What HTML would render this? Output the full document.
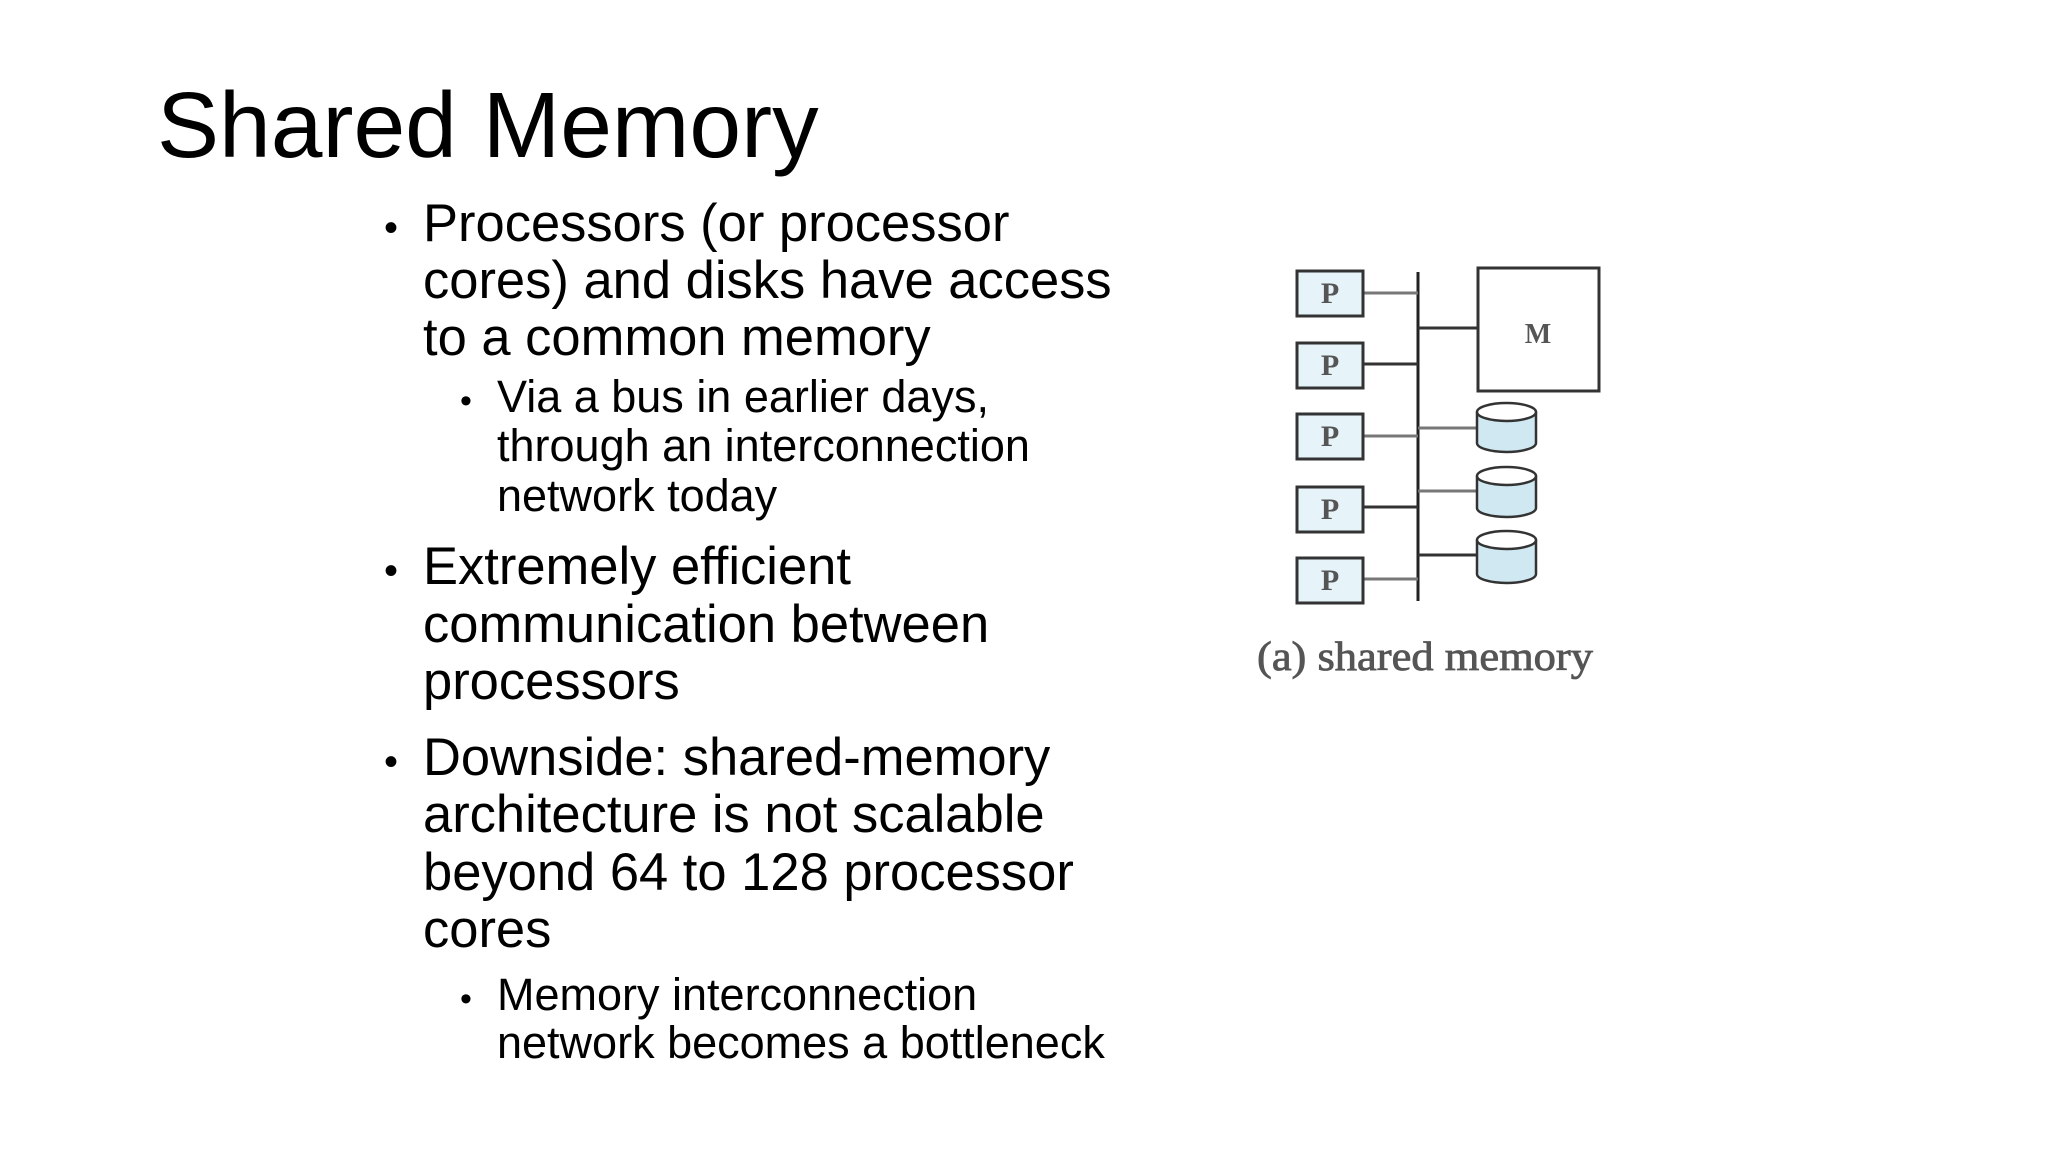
<!DOCTYPE html>
<html><head><meta charset="utf-8"><style>
html,body{margin:0;padding:0;background:#fff;}
svg{display:block;}
</style></head><body>
<svg width="2048" height="1152" viewBox="0 0 2048 1152" xmlns="http://www.w3.org/2000/svg">
<rect width="2048" height="1152" fill="#fff"/>
<g font-family="Liberation Sans, Arial, sans-serif" fill="#000">
<text x="157" y="157" font-size="93">Shared Memory</text>
<g font-size="52.5">
<text x="384" y="241" font-size="40">•</text>
<text x="423" y="241">Processors (or processor</text>
<text x="423" y="298">cores) and disks have access</text>
<text x="423" y="355">to a common memory</text>
<text x="384" y="584" font-size="40">•</text>
<text x="423" y="584">Extremely efficient</text>
<text x="423" y="642">communication between</text>
<text x="423" y="699">processors</text>
<text x="384" y="775" font-size="40">•</text>
<text x="423" y="775">Downside: shared-memory</text>
<text x="423" y="832">architecture is not scalable</text>
<text x="423" y="890">beyond 64 to 128 processor</text>
<text x="423" y="947">cores</text>
</g>
<g font-size="45">
<text x="460" y="412" font-size="34">•</text>
<text x="497" y="412">Via a bus in earlier days,</text>
<text x="497" y="461">through an interconnection</text>
<text x="497" y="511">network today</text>
<text x="460" y="1010" font-size="34">•</text>
<text x="497" y="1010">Memory interconnection</text>
<text x="497" y="1058">network becomes a bottleneck</text>
</g>
</g>
<!-- diagram -->
<g>
<line x1="1418" y1="272" x2="1418" y2="601" stroke="#222" stroke-width="3"/>
<g stroke="#777" stroke-width="3">
<line x1="1364" y1="293" x2="1418" y2="293"/>
<line x1="1364" y1="364" x2="1418" y2="364" stroke="#333"/>
<line x1="1364" y1="436" x2="1418" y2="436"/>
<line x1="1364" y1="507" x2="1418" y2="507" stroke="#333"/>
<line x1="1364" y1="579" x2="1418" y2="579"/>
<line x1="1418" y1="328" x2="1477" y2="328" stroke="#333"/>
<line x1="1418" y1="428" x2="1477" y2="428"/>
<line x1="1418" y1="491" x2="1477" y2="491"/>
<line x1="1418" y1="555" x2="1477" y2="555" stroke="#333"/>
</g>
<g fill="#e6f3f9" stroke="#333" stroke-width="3">
<rect x="1297" y="271" width="66" height="45"/>
<rect x="1297" y="343" width="66" height="45"/>
<rect x="1297" y="414" width="66" height="45"/>
<rect x="1297" y="487" width="66" height="45"/>
<rect x="1297" y="558" width="66" height="45"/>
</g>
<g font-family="Liberation Serif, serif" font-size="30" fill="#555" text-anchor="middle" font-weight="bold">
<text x="1330" y="303">P</text>
<text x="1330" y="375">P</text>
<text x="1330" y="446">P</text>
<text x="1330" y="519">P</text>
<text x="1330" y="590">P</text>
</g>
<rect x="1478" y="268" width="121" height="123" fill="#fff" stroke="#333" stroke-width="3"/>
<text x="1538" y="343" font-family="Liberation Serif, serif" font-size="28" font-weight="bold" fill="#555" text-anchor="middle">M</text>
<g stroke="#333" stroke-width="2.5">
<g>
<path d="M1477,412 V443 A29.5,9 0 0 0 1536,443 V412" fill="#cfe8f2"/>
<ellipse cx="1506.5" cy="412" rx="29.5" ry="9" fill="#fff"/>
</g>
<g>
<path d="M1477,476 V508 A29.5,9 0 0 0 1536,508 V476" fill="#cfe8f2"/>
<ellipse cx="1506.5" cy="476" rx="29.5" ry="9" fill="#fff"/>
</g>
<g>
<path d="M1477,540 V574 A29.5,9 0 0 0 1536,574 V540" fill="#cfe8f2"/>
<ellipse cx="1506.5" cy="540" rx="29.5" ry="9" fill="#fff"/>
</g>
</g>
<text x="1257" y="670" font-family="Liberation Serif, serif" font-size="41" fill="#555" stroke="#555" stroke-width="0.8" textLength="336" lengthAdjust="spacingAndGlyphs">(a) shared memory</text>
</g>
</svg>
</body></html>
